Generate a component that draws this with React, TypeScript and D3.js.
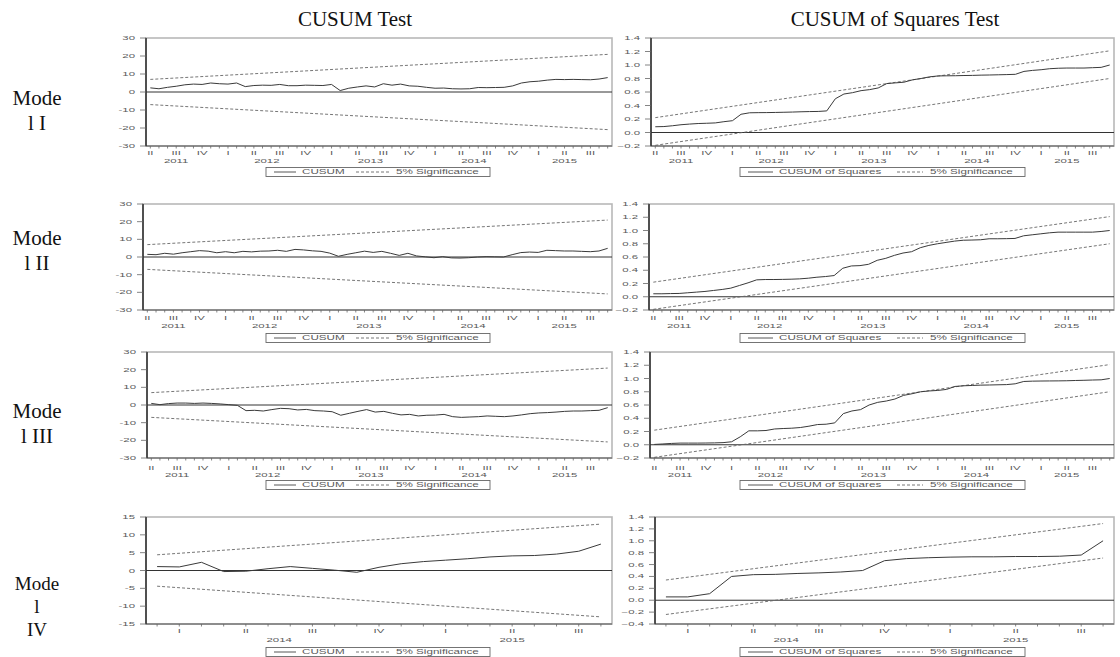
import * as d3 from "d3";

const W = 1120;
const H = 657;

// Models I-III: monthly, 2011M04 .. 2015M09 (54 obs)
const m1Cusum = [2.3, 1.8, 2.6, 3.2, 4.0, 4.4, 4.2, 5.0, 4.6, 4.4, 5.0, 3.0, 3.6, 3.8, 3.7, 4.2, 3.5, 3.5, 3.8, 3.7, 3.6, 4.2, 0.8, 2.1, 2.8, 3.4, 2.8, 4.6, 3.8, 4.4, 3.4, 3.2, 2.6, 2.1, 2.2, 1.8, 1.7, 1.8, 2.5, 2.4, 2.5, 2.6, 3.4, 5.0, 5.7, 6.0, 6.6, 7.0, 6.9, 7.0, 6.9, 6.8, 7.2, 8.0];
const m1Sq = [0.085, 0.088, 0.1, 0.115, 0.125, 0.133, 0.137, 0.142, 0.16, 0.175, 0.27, 0.292, 0.294, 0.295, 0.297, 0.3, 0.303, 0.307, 0.31, 0.312, 0.32, 0.5, 0.57, 0.59, 0.62, 0.635, 0.66, 0.725, 0.735, 0.745, 0.78, 0.8, 0.825, 0.838, 0.84, 0.841, 0.844, 0.846, 0.85, 0.852, 0.855, 0.858, 0.862, 0.905, 0.92, 0.93, 0.945, 0.952, 0.955, 0.955, 0.955, 0.96, 0.965, 1.0];

const m2Cusum = [1.5, 1.3, 2.1, 1.6, 2.4, 3.0, 3.6, 3.3, 2.4, 3.0, 2.4, 3.2, 2.9, 3.3, 3.4, 3.8, 3.2, 4.3, 4.0, 3.5, 3.2, 2.2, 0.4, 1.5, 2.4, 3.3, 2.6, 3.2, 2.1, 0.9, 2.1, 0.6, 0.1, -0.4, 0.2, -0.5, -0.6, -0.4, 0.0, 0.2, 0.1, 0.0, 1.3, 2.5, 2.8, 2.6, 3.8, 3.6, 3.4, 3.4, 3.2, 3.0, 3.4, 4.9];
const m2Sq = [0.045, 0.045, 0.048, 0.05, 0.06, 0.07, 0.08, 0.095, 0.11, 0.13, 0.17, 0.21, 0.255, 0.26, 0.26, 0.262, 0.265, 0.27, 0.28, 0.295, 0.305, 0.32, 0.43, 0.465, 0.47, 0.49, 0.55, 0.58, 0.625, 0.66, 0.68, 0.74, 0.775, 0.8, 0.82, 0.84, 0.853, 0.856, 0.86, 0.875, 0.875, 0.877, 0.88, 0.92, 0.935, 0.95, 0.965, 0.975, 0.975, 0.975, 0.975, 0.975, 0.985, 1.0];

const m3Cusum = [0.9, 0.2, 0.8, 1.1, 1.1, 0.9, 1.1, 0.9, 0.6, 0.2, -0.2, -3.2, -3.0, -3.4, -2.6, -1.9, -2.1, -2.8, -2.5, -3.2, -3.4, -3.8, -5.8, -4.7, -3.6, -2.6, -4.0, -3.6, -4.7, -5.6, -5.3, -6.2, -5.8, -5.7, -5.3, -6.6, -7.0, -6.8, -6.6, -6.2, -6.4, -6.6, -6.2, -5.6, -4.9, -4.5, -4.3, -4.0, -3.6, -3.4, -3.4, -3.2, -3.0, -1.5];
const m3Sq = [0.005, 0.012, 0.02, 0.025, 0.025, 0.025, 0.026, 0.028, 0.032, 0.045, 0.12, 0.21, 0.21, 0.215, 0.238, 0.245, 0.25, 0.26, 0.28, 0.305, 0.31, 0.33, 0.47, 0.51, 0.53, 0.6, 0.64, 0.66, 0.69, 0.745, 0.77, 0.8, 0.812, 0.82, 0.835, 0.88, 0.89, 0.895, 0.9, 0.902, 0.905, 0.908, 0.92, 0.955, 0.96, 0.962, 0.963, 0.964, 0.966, 0.97, 0.973, 0.977, 0.98, 1.0];

// Model IV: monthly, 2013M12 .. 2015M08 (21 obs)
const m4Cusum = [1.1, 1.0, 2.3, -0.3, -0.2, 0.5, 1.1, 0.6, 0.1, -0.5, 0.9, 1.9, 2.5, 2.9, 3.3, 3.8, 4.1, 4.2, 4.6, 5.4, 7.4];
const m4Sq = [0.056, 0.056, 0.11, 0.4, 0.43, 0.435, 0.45, 0.46, 0.475, 0.5, 0.665, 0.7, 0.715, 0.725, 0.73, 0.73, 0.735, 0.735, 0.74, 0.76, 1.0];

// 5% significance lines: [first obs, last obs]
const cusumUpper = [7.0, 20.9];
const cusumLower = [-7.0, -20.9];
const sqUpper = [0.22, 1.21];
const sqLower = [-0.19, 0.8];
const cusumUpper4 = [4.4, 13.0];
const cusumLower4 = [-4.4, -13.0];
const sqUpper4 = [0.34, 1.29];
const sqLower4 = [-0.24, 0.71];

const cusumTicks = [-30, -20, -10, 0, 10, 20, 30];
const cusumTicks4 = [-15, -10, -5, 0, 5, 10, 15];
const sqTicks = [-0.2, 0, 0.2, 0.4, 0.6, 0.8, 1.0, 1.2, 1.4];
const sqTicks4 = [-0.4, -0.2, 0, 0.2, 0.4, 0.6, 0.8, 1.0, 1.2, 1.4];

const roman = ["I", "II", "III", "IV"];

const SANS = "'Liberation Sans', Arial, sans-serif";
const SERIF = "'Liberation Serif', 'Times New Roman', serif";

function monthAxis(start: [number, number], n: number) {
  const quarters: { i: number; label: string }[] = [];
  const byYear = new Map<number, number[]>();
  for (let i = 0; i < n; i++) {
    const m0 = start[1] - 1 + i;
    const year = start[0] + Math.floor(m0 / 12);
    const month = (m0 % 12) + 1;
    if ((month - 1) % 3 === 0) {
      quarters.push({ i, label: roman[(month - 1) / 3] });
      byYear.set(year, [...(byYear.get(year) || []), i]);
    }
  }
  const years = [...byYear].map(([yr, idx]) => ({ label: String(yr), i: d3.mean(idx) as number }));
  return { quarters, years };
}

const Wide = ({ x, y, children, anchor = "start", size = 6, sx = 1.9, fill = "#5a5a5a" }: any) => (
  <text
    transform={`translate(${x},${y}) scale(${sx},1)`}
    textAnchor={anchor}
    fontSize={size}
    fill={fill}
    fontFamily={SANS}
  >
    {children}
  </text>
);

const Panel = (props: any) => {
  const { x0, x1, y0, y1, yTicks, fmt, values, upper, lower, start, qY, yrY, legY, kind } = props;
  const n = values.length;
  const x = d3.scaleLinear().domain([-0.5, n - 0.5]).range([x0, x1]);
  const y = d3.scaleLinear().domain([yTicks[0], yTicks[yTicks.length - 1]]).range([y1, y0]);
  const line = d3.line<number>().x((_, i) => x(i)).y((d) => y(d));
  const bound = (b: number[]) =>
    d3.line<number[]>().x((d) => x(d[0])).y((d) => y(d[1]))([[0, b[0]], [n - 1, b[1]]]) as string;
  const { quarters, years } = monthAxis(start, n);

  const isSq = kind === "sq";
  const lg = isSq
    ? { b0: 740, b1: 1025, s0: 748, s1: 773, t1: 779, d0: 897, d1: 923, t2: 930, name: "CUSUM of Squares" }
    : { b0: 266, b1: 490, s0: 274, s1: 296, t1: 302, d0: 356, d1: 390, t2: 396, name: "CUSUM" };

  return (
    <g>
      <rect x={x0} y={y0} width={x1 - x0} height={y1 - y0} fill="#fff" stroke="#b8b8b8" strokeWidth={1.6} />
      {/* zero line */}
      <line x1={x0} x2={x1} y1={y(0)} y2={y(0)} stroke="#333" strokeWidth={1} />
      <path d={bound(upper)} fill="none" stroke="#666" strokeWidth={0.9} strokeDasharray="3,2" />
      <path d={bound(lower)} fill="none" stroke="#666" strokeWidth={0.9} strokeDasharray="3,2" />
      <path d={line(values) as string} fill="none" stroke="#3a3a3a" strokeWidth={1} />
      {/* axes */}
      <line x1={x0} x2={x1} y1={y1} y2={y1} stroke="#555" strokeWidth={1} />
      <line x1={x0} x2={x0} y1={y0} y2={y1} stroke="#333" strokeWidth={1.6} />
      {yTicks.map((t: number) => (
        <g key={t}>
          <line x1={x0 - 6} x2={x0} y1={y(t)} y2={y(t)} stroke="#666" strokeWidth={0.8} />
          <Wide x={x0 - 11} y={y(t) + 2} anchor="end">{fmt(t)}</Wide>
        </g>
      ))}
      {d3.range(n).map((i) => (
        <line key={i} x1={x(i)} x2={x(i)} y1={y1} y2={y1 + 2.5} stroke="#666" strokeWidth={0.8} />
      ))}
      {quarters.map((q) => (
        <Wide key={"q" + q.i} x={x(q.i)} y={qY} anchor="middle">{q.label}</Wide>
      ))}
      {years.map((yr) => (
        <Wide key={yr.label} x={x(yr.i)} y={yrY} anchor="middle">{yr.label}</Wide>
      ))}
      {/* legend */}
      <rect x={lg.b0} y={legY - 4.5} width={lg.b1 - lg.b0} height={9} fill="#fff" stroke="#666" strokeWidth={0.9} />
      <line x1={lg.s0} x2={lg.s1} y1={legY} y2={legY} stroke="#444" strokeWidth={0.9} />
      <Wide x={lg.t1} y={legY + 2.2} size={6.3} sx={1.85}>{lg.name}</Wide>
      <line x1={lg.d0} x2={lg.d1} y1={legY} y2={legY} stroke="#666" strokeWidth={0.9} strokeDasharray="3,2" />
      <Wide x={lg.t2} y={legY + 2.2} size={6.3} sx={1.85}>5% Significance</Wide>
    </g>
  );
};

const rows = [
  { label: ["Mode", "l I"], labelY: [105, 130], y0: 38, y1: 146, qY: 154.5, yrY: 163, legY: 172, lx0: 146, rx0: 651,
    cusum: m1Cusum, sq: m1Sq, cu: cusumUpper, cl: cusumLower, su: sqUpper, sl: sqLower, cTicks: cusumTicks, sTicks: sqTicks, start: [2011, 4] },
  { label: ["Mode", "l II"], labelY: [245, 270], y0: 204, y1: 310, qY: 319.5, yrY: 327.5, legY: 338, lx0: 143, rx0: 649,
    cusum: m2Cusum, sq: m2Sq, cu: cusumUpper, cl: cusumLower, su: sqUpper, sl: sqLower, cTicks: cusumTicks, sTicks: sqTicks, start: [2011, 4] },
  { label: ["Mode", "l III"], labelY: [418, 443], y0: 352, y1: 458, qY: 469.5, yrY: 477, legY: 485, lx0: 147, rx0: 650,
    cusum: m3Cusum, sq: m3Sq, cu: cusumUpper, cl: cusumLower, su: sqUpper, sl: sqLower, cTicks: cusumTicks, sTicks: sqTicks, start: [2011, 4] },
  { label: ["Mode", "l", "IV"], labelY: [590, 613, 636], y0: 517, y1: 624, qY: 632.5, yrY: 641.5, legY: 652, lx0: 146, rx0: 655,
    cusum: m4Cusum, sq: m4Sq, cu: cusumUpper4, cl: cusumLower4, su: sqUpper4, sl: sqLower4, cTicks: cusumTicks4, sTicks: sqTicks4, start: [2013, 12] },
];

const fmtInt = (t: number) => String(t);
const fmtDec = (t: number) => d3.format(".1f")(t);

export default function App() {
  return (
    <div style={{ position: "absolute", left: 0, top: 0 }}>
      <svg width={W} height={H} style={{ display: "block", background: "#fff" }}>
        <text x={355} y={26} textAnchor="middle" fontFamily={SERIF} fontSize={21} fill="#111">CUSUM Test</text>
        <text x={895} y={26} textAnchor="middle" fontFamily={SERIF} fontSize={21} fill="#111">CUSUM of Squares Test</text>
        {rows.map((r, k) => (
          <g key={k}>
            {r.label.map((s, j) => (
              <text key={j} x={37} y={r.labelY[j]} textAnchor="middle" fontFamily={SERIF} fontSize={r.label.length > 2 ? 19 : 21} fill="#111">{s}</text>
            ))}
            <Panel x0={r.lx0} x1={612} y0={r.y0} y1={r.y1} yTicks={r.cTicks} fmt={fmtInt} values={r.cusum}
              upper={r.cu} lower={r.cl} start={r.start} qY={r.qY} yrY={r.yrY} legY={r.legY} kind="cusum" />
            <Panel x0={r.rx0} x1={1114} y0={r.y0} y1={r.y1} yTicks={r.sTicks} fmt={fmtDec} values={r.sq}
              upper={r.su} lower={r.sl} start={r.start} qY={r.qY} yrY={r.yrY} legY={r.legY} kind="sq" />
          </g>
        ))}
      </svg>
    </div>
  );
}
